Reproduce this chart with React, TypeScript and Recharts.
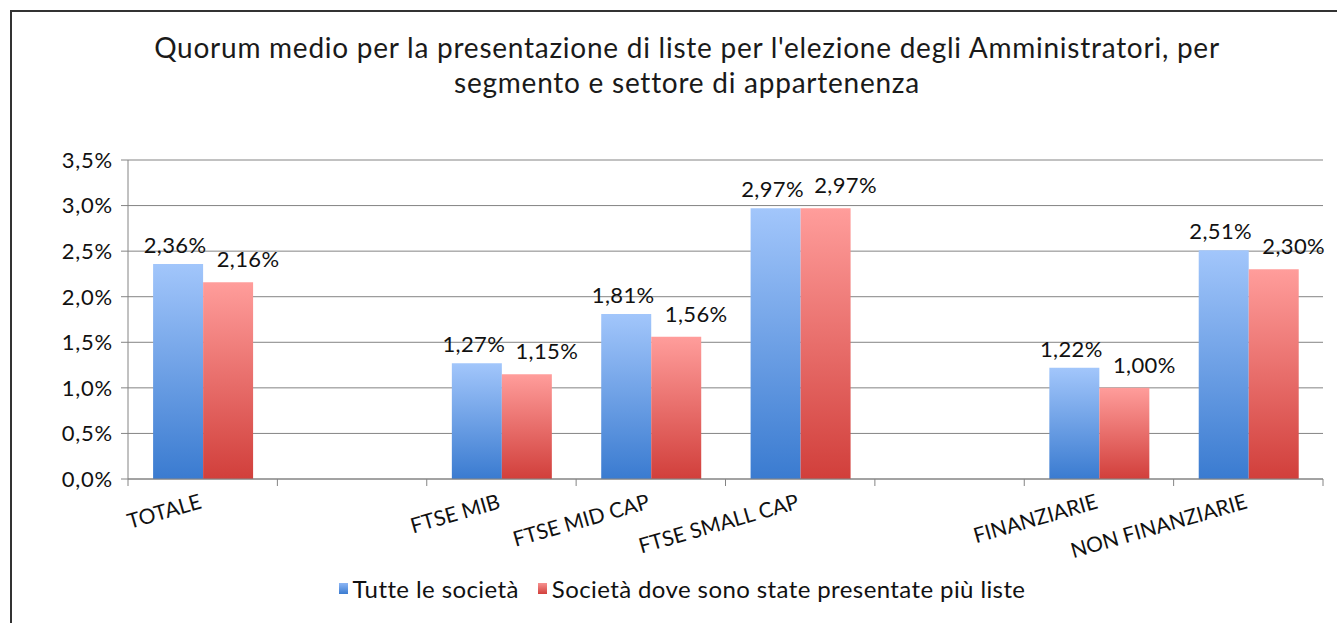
import { BarChart, Bar, XAxis, YAxis, CartesianGrid, LabelList } from "recharts";

const categories = [
  "TOTALE",
  "",
  "FTSE MIB",
  "FTSE MID CAP",
  "FTSE SMALL CAP",
  "",
  "FINANZIARIE",
  "NON FINANZIARIE",
];
const tutteLeSocieta = [2.36, null, 1.27, 1.81, 2.97, null, 1.22, 2.51];
const piuListe = [2.16, null, 1.15, 1.56, 2.97, null, 1.0, 2.3];
const yTicks = [0, 0.5, 1, 1.5, 2, 2.5, 3, 3.5];

const seriesNames = ["Tutte le società", "Società dove sono state presentate più liste"];

const data = categories.map((name, i) => ({
  name,
  tutte: tutteLeSocieta[i],
  piu: piuListe[i],
}));

const W = 1337;
const H = 623;
const LEFT = 128;
const RIGHT = 14;
const BAND = (W - LEFT - RIGHT) / categories.length;
const FONT = "Lato, 'Open Sans', sans-serif";
const GRID = "#848484";

const pct = (v: number, d: number) => v.toFixed(d).replace(".", ",") + "%";

function CategoryTick(props: any) {
  const { x, y, payload, index } = props;
  return (
    <g>
      <line x1={x - BAND / 2} x2={x - BAND / 2} y1={y} y2={y + 7} stroke={GRID} />
      {index === categories.length - 1 && (
        <line x1={x + BAND / 2} x2={x + BAND / 2} y1={y} y2={y + 7} stroke={GRID} />
      )}
      <text
        x={x}
        y={y + 29}
        textAnchor="end"
        transform={`rotate(-16 ${x} ${y + 29})`}
        fontSize={21}
        fontFamily={FONT}
        fill="#111"
      >
        {payload.value}
      </text>
    </g>
  );
}

function makeLabel(dx: number, gap: number) {
  return (props: any) => {
    const { x, y, width, value } = props;
    if (value == null) return null;
    return (
      <text
        x={x + width / 2 + dx}
        y={y - gap}
        textAnchor="middle"
        fontSize={22}
        letterSpacing={0.4}
        fontFamily={FONT}
        fill="#111"
      >
        {pct(value, 2)}
      </text>
    );
  };
}

export default function App() {
  return (
    <div
      style={{
        position: "absolute",
        left: 0,
        top: 0,
        width: W,
        height: H,
        background: "#fff",
        overflow: "hidden",
        fontFamily: FONT,
      }}
    >
      <div
        style={{
          position: "absolute",
          left: 10,
          top: 10,
          right: -4,
          bottom: -4,
          borderLeft: "2px solid #333",
          borderTop: "2px solid #333",
        }}
      />
      <div
        style={{
          position: "absolute",
          left: 0,
          top: 30,
          width: 1374,
          textAlign: "center",
          fontSize: 28,
          letterSpacing: 0.75,
          lineHeight: "35px",
          color: "#1a1a1a",
        }}
      >
        Quorum medio per la presentazione di liste per l'elezione degli Amministratori, per
        <br />
        segmento e settore di appartenenza
      </div>
      <div style={{ position: "absolute", left: 0, top: 0 }}>
        <BarChart
          width={W}
          height={H}
          data={data}
          margin={{ top: 160, right: RIGHT, bottom: 0, left: 0 }}
          barCategoryGap="16.8%"
          barGap={0}
        >
          <defs>
            <linearGradient id="blueGrad" x1="0" y1="0" x2="0" y2="1">
              <stop offset="0%" stopColor="#a2c6fb" />
              <stop offset="100%" stopColor="#3a7bd0" />
            </linearGradient>
            <linearGradient id="redGrad" x1="0" y1="0" x2="0" y2="1">
              <stop offset="0%" stopColor="#ff9d9b" />
              <stop offset="100%" stopColor="#d13f3b" />
            </linearGradient>
          </defs>
          <CartesianGrid vertical={false} stroke={GRID} />
          <XAxis
            dataKey="name"
            height={144}
            tickSize={0}
            tickMargin={0}
            axisLine={{ stroke: GRID }}
            tick={<CategoryTick />}
            interval={0}
          />
          <YAxis
            width={LEFT}
            domain={[0, 3.5]}
            ticks={yTicks}
            tickFormatter={(v: number) => pct(v, 1)}
            tickSize={7}
            tickMargin={8}
            axisLine={{ stroke: GRID }}
            tickLine={{ stroke: GRID }}
            tick={{ fontSize: 22, fontFamily: FONT, fill: "#111", letterSpacing: 0.8 }}
          />
          <Bar dataKey="tutte" name={seriesNames[0]} fill="url(#blueGrad)" isAnimationActive={false}>
            <LabelList dataKey="tutte" content={makeLabel(-3, 11)} />
          </Bar>
          <Bar dataKey="piu" name={seriesNames[1]} fill="url(#redGrad)" isAnimationActive={false}>
            <LabelList dataKey="piu" content={makeLabel(20, 15)} />
          </Bar>
        </BarChart>
      </div>
      <div
        style={{
          position: "absolute",
          left: 0,
          top: 574,
          width: 1364,
          display: "flex",
          justifyContent: "center",
          alignItems: "center",
          fontSize: 24,
          letterSpacing: 0.4,
          color: "#111",
        }}
      >
        {seriesNames.map((n, i) => (
          <div key={n} style={{ display: "flex", alignItems: "center", marginRight: i === 0 ? 19 : 0 }}>
            <span
              style={{
                display: "inline-block",
                width: 9,
                height: 11,
                marginRight: 5,
                background: i === 0 ? "linear-gradient(#8db6f5, #3a7bd0)" : "linear-gradient(#f79290, #d13f3b)",
              }}
            />
            {n}
          </div>
        ))}
      </div>
    </div>
  );
}
